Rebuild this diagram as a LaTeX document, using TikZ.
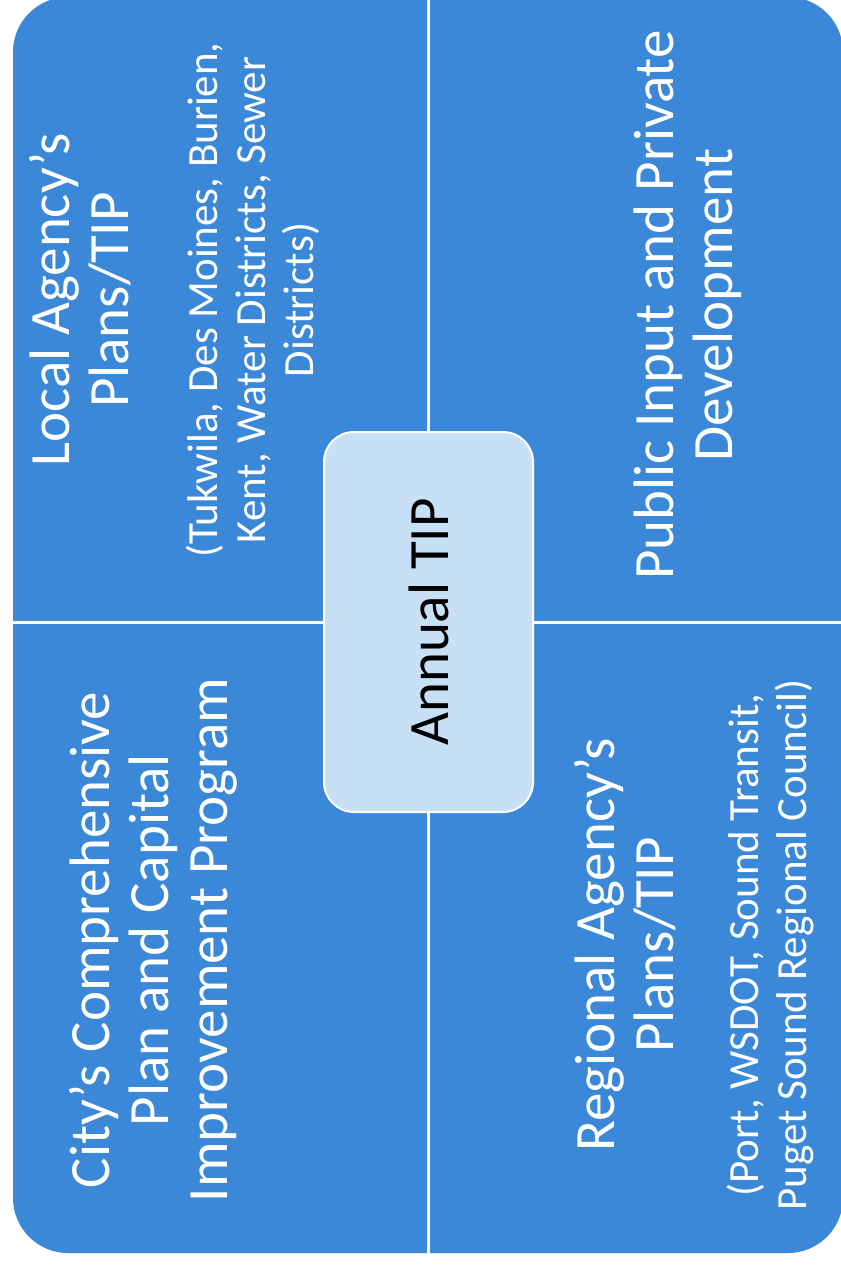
\documentclass[tikz,border=0pt]{standalone}
\usepackage{fontspec}
\setmainfont{Carlito}
\definecolor{qblue}{HTML}{3C88D8}
\definecolor{cfill}{HTML}{C7E0F6}
\tikzset{
  bigtxt/.style={rotate=90, anchor=north, inner sep=0pt, align=center, text=white, font=\fontsize{57}{59}\selectfont},
  smalltxt/.style={rotate=90, anchor=north, inner sep=0pt, align=center, text=white, font=\fontsize{43}{48}\selectfont},
  divider/.style={draw=white, line width=3pt},
  centerbox/.style={draw=white, line width=2pt, fill=cfill, rounded corners=30pt}
}
\begin{document}
\begin{tikzpicture}[x=1pt, y=-1pt]
\useasboundingbox (0,0) rectangle (840,1265);
\fill[white] (0,0) rectangle (840,1265);
% outer matrix
\fill[qblue, rounded corners=55pt] (13,-3) rectangle (843,1253);
\coordinate (vt) at (428,-3);
\coordinate (vb) at (428,1253);
\coordinate (hl) at (13,622);
\coordinate (hr) at (843,622);
\draw[divider] (vt) -- (vb);
\draw[divider] (hl) -- (hr);
% centre box
\draw[centerbox] (324,432) rectangle (533,812);
\node[rotate=90, inner sep=0pt, font=\fontsize{57}{59}\selectfont, text=black] (annual) at (428.5,622) {Annual TIP};
% top-left quadrant
\node[bigtxt] (local) at (29,300) {Local Agency’s\\Plans/TIP};
\node[smalltxt] (localsub) at (186,300) {(Tukwila, Des Moines, Burien,\\Kent, Water Districts, Sewer\\Districts)};
% bottom-left quadrant
\node[bigtxt] (city) at (69,940) {City’s Comprehensive\\Plan and Capital\\Improvement Program};
% bottom-right quadrant
\node[bigtxt] (regional) at (574,945) {Regional Agency’s\\Plans/TIP};
\node[smalltxt] (regsub) at (727,945) {(Port, WSDOT, Sound Transit,\\Puget Sound Regional Council)};
% top-right quadrant
\node[bigtxt] (public) at (634,305) {Public Input and Private\\Development};
\end{tikzpicture}
\end{document}
